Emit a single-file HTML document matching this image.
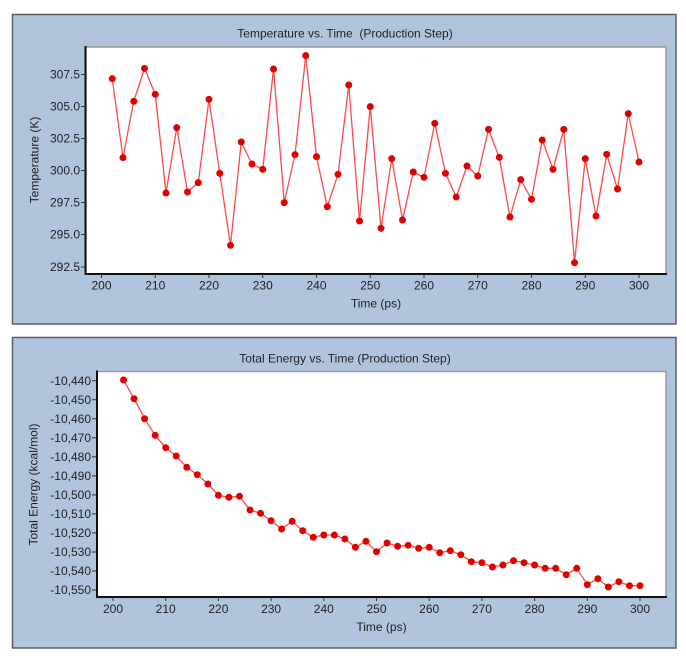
<!DOCTYPE html>
<html><head><meta charset="utf-8"><style>
html,body{margin:0;padding:0;background:#fff;width:686px;height:656px;overflow:hidden}
svg{display:block}
text{font-family:"Liberation Sans",Arial,sans-serif;font-size:12px;fill:#222}
</style></head><body>
<svg width="686" height="656" viewBox="0 0 686 656" xmlns="http://www.w3.org/2000/svg">
<!-- Top panel -->
<rect x="12.5" y="14.5" width="663.5" height="309.5" fill="#b0c4de" stroke="#5a5e63" stroke-width="1.5"/>
<rect x="86" y="47" width="580" height="227" fill="#fff" stroke="#9a9a9a" stroke-width="1.5"/>
<text x="345" y="37.5" text-anchor="middle">Temperature vs. Time &#160;(Production Step)</text>
<line x1="85.5" y1="46" x2="85.5" y2="275" stroke="#111" stroke-width="2"/>
<line x1="84.5" y1="274" x2="667" y2="274" stroke="#111" stroke-width="2"/>
<g stroke="#333" stroke-width="1">
<line x1="81" y1="74.5" x2="85" y2="74.5"/><line x1="81" y1="106.5" x2="85" y2="106.5"/><line x1="81" y1="138.5" x2="85" y2="138.5"/><line x1="81" y1="170.5" x2="85" y2="170.5"/><line x1="81" y1="202.5" x2="85" y2="202.5"/><line x1="81" y1="234.5" x2="85" y2="234.5"/><line x1="81" y1="267" x2="85" y2="267"/>
<line x1="101.5" y1="275" x2="101.5" y2="278"/><line x1="155.25" y1="275" x2="155.25" y2="278"/><line x1="209" y1="275" x2="209" y2="278"/><line x1="262.75" y1="275" x2="262.75" y2="278"/><line x1="316.5" y1="275" x2="316.5" y2="278"/><line x1="370.25" y1="275" x2="370.25" y2="278"/><line x1="424" y1="275" x2="424" y2="278"/><line x1="477.75" y1="275" x2="477.75" y2="278"/><line x1="531.5" y1="275" x2="531.5" y2="278"/><line x1="585.25" y1="275" x2="585.25" y2="278"/><line x1="639" y1="275" x2="639" y2="278"/>
</g>
<g text-anchor="end">
<text x="80" y="78.7">307.5</text><text x="80" y="110.7">305.0</text><text x="80" y="142.7">302.5</text><text x="80" y="174.7">300.0</text><text x="80" y="206.7">297.5</text><text x="80" y="238.7">295.0</text><text x="80" y="271.2">292.5</text>
</g>
<g text-anchor="middle">
<text x="101.5" y="289.5">200</text><text x="155.25" y="289.5">210</text><text x="209" y="289.5">220</text><text x="262.75" y="289.5">230</text><text x="316.5" y="289.5">240</text><text x="370.25" y="289.5">250</text><text x="424" y="289.5">260</text><text x="477.75" y="289.5">270</text><text x="531.5" y="289.5">280</text><text x="585.25" y="289.5">290</text><text x="639" y="289.5">300</text>
<text x="376" y="307.5">Time (ps)</text>
<text transform="translate(38.5,160) rotate(-90)">Temperature (K)</text>
</g>
<polyline fill="none" stroke="#ff4848" stroke-width="1.3" stroke-linejoin="round" points="112.25,78.67 123,157.67 133.75,101.33 144.5,68.33 155.25,94.33 166,193 176.75,127.67 187.5,192 198.25,182.67 209,99.33 219.75,173.33 230.5,245.33 241.25,142 252,164 262.75,169.33 273.5,69 284.25,202.67 295,154.67 305.75,55.67 316.5,156.67 327.25,206.67 338,174.33 348.75,85 359.5,221 370.25,106.67 381,228.33 391.75,158.67 402.5,220 413.25,172 424,177.33 434.75,123.33 445.5,173.33 456.25,197 467,166 477.75,176 488.5,129.33 499.25,157.33 510,217 520.75,179.67 531.5,199.33 542.25,140 553,169.33 563.75,129.33 574.5,262.67 585.25,158.67 596,216 606.75,154.33 617.5,189 628.25,113.67 639,162"/>
<g fill="#e00000">
<circle cx="112.25" cy="78.67" r="3.5"/><circle cx="123" cy="157.67" r="3.5"/><circle cx="133.75" cy="101.33" r="3.5"/><circle cx="144.5" cy="68.33" r="3.5"/><circle cx="155.25" cy="94.33" r="3.5"/><circle cx="166" cy="193" r="3.5"/><circle cx="176.75" cy="127.67" r="3.5"/><circle cx="187.5" cy="192" r="3.5"/><circle cx="198.25" cy="182.67" r="3.5"/><circle cx="209" cy="99.33" r="3.5"/><circle cx="219.75" cy="173.33" r="3.5"/><circle cx="230.5" cy="245.33" r="3.5"/><circle cx="241.25" cy="142" r="3.5"/><circle cx="252" cy="164" r="3.5"/><circle cx="262.75" cy="169.33" r="3.5"/><circle cx="273.5" cy="69" r="3.5"/><circle cx="284.25" cy="202.67" r="3.5"/><circle cx="295" cy="154.67" r="3.5"/><circle cx="305.75" cy="55.67" r="3.5"/><circle cx="316.5" cy="156.67" r="3.5"/><circle cx="327.25" cy="206.67" r="3.5"/><circle cx="338" cy="174.33" r="3.5"/><circle cx="348.75" cy="85" r="3.5"/><circle cx="359.5" cy="221" r="3.5"/><circle cx="370.25" cy="106.67" r="3.5"/><circle cx="381" cy="228.33" r="3.5"/><circle cx="391.75" cy="158.67" r="3.5"/><circle cx="402.5" cy="220" r="3.5"/><circle cx="413.25" cy="172" r="3.5"/><circle cx="424" cy="177.33" r="3.5"/><circle cx="434.75" cy="123.33" r="3.5"/><circle cx="445.5" cy="173.33" r="3.5"/><circle cx="456.25" cy="197" r="3.5"/><circle cx="467" cy="166" r="3.5"/><circle cx="477.75" cy="176" r="3.5"/><circle cx="488.5" cy="129.33" r="3.5"/><circle cx="499.25" cy="157.33" r="3.5"/><circle cx="510" cy="217" r="3.5"/><circle cx="520.75" cy="179.67" r="3.5"/><circle cx="531.5" cy="199.33" r="3.5"/><circle cx="542.25" cy="140" r="3.5"/><circle cx="553" cy="169.33" r="3.5"/><circle cx="563.75" cy="129.33" r="3.5"/><circle cx="574.5" cy="262.67" r="3.5"/><circle cx="585.25" cy="158.67" r="3.5"/><circle cx="596" cy="216" r="3.5"/><circle cx="606.75" cy="154.33" r="3.5"/><circle cx="617.5" cy="189" r="3.5"/><circle cx="628.25" cy="113.67" r="3.5"/><circle cx="639" cy="162" r="3.5"/>
</g>

<!-- Bottom panel -->
<rect x="12.5" y="337.5" width="663.5" height="310.5" fill="#b0c4de" stroke="#5a5e63" stroke-width="1.5"/>
<rect x="97" y="371.5" width="569" height="226" fill="#fff" stroke="#9a9a9a" stroke-width="1.5"/>
<text x="345" y="362.5" text-anchor="middle">Total Energy vs. Time (Production Step)</text>
<line x1="97" y1="370.5" x2="97" y2="598" stroke="#111" stroke-width="2"/>
<line x1="96" y1="597" x2="667" y2="597" stroke="#111" stroke-width="2"/>
<g stroke="#333" stroke-width="1">
<line x1="92" y1="380.7" x2="96" y2="380.7"/><line x1="92" y1="399.7" x2="96" y2="399.7"/><line x1="92" y1="418.8" x2="96" y2="418.8"/><line x1="92" y1="437.8" x2="96" y2="437.8"/><line x1="92" y1="456.8" x2="96" y2="456.8"/><line x1="92" y1="475.9" x2="96" y2="475.9"/><line x1="92" y1="494.9" x2="96" y2="494.9"/><line x1="92" y1="513.9" x2="96" y2="513.9"/><line x1="92" y1="532.9" x2="96" y2="532.9"/><line x1="92" y1="552" x2="96" y2="552"/><line x1="92" y1="571" x2="96" y2="571"/><line x1="92" y1="590" x2="96" y2="590"/>
<line x1="113" y1="598" x2="113" y2="601"/><line x1="165.7" y1="598" x2="165.7" y2="601"/><line x1="218.4" y1="598" x2="218.4" y2="601"/><line x1="271.1" y1="598" x2="271.1" y2="601"/><line x1="323.8" y1="598" x2="323.8" y2="601"/><line x1="376.5" y1="598" x2="376.5" y2="601"/><line x1="429.2" y1="598" x2="429.2" y2="601"/><line x1="481.9" y1="598" x2="481.9" y2="601"/><line x1="534.6" y1="598" x2="534.6" y2="601"/><line x1="587.3" y1="598" x2="587.3" y2="601"/><line x1="640" y1="598" x2="640" y2="601"/>
</g>
<g text-anchor="end">
<text x="91" y="384.9">-10,440</text><text x="91" y="403.9">-10,450</text><text x="91" y="423">-10,460</text><text x="91" y="442">-10,470</text><text x="91" y="461">-10,480</text><text x="91" y="480.1">-10,490</text><text x="91" y="499.1">-10,500</text><text x="91" y="518.1">-10,510</text><text x="91" y="537.1">-10,520</text><text x="91" y="556.2">-10,530</text><text x="91" y="575.2">-10,540</text><text x="91" y="594.2">-10,550</text>
</g>
<g text-anchor="middle">
<text x="113" y="613">200</text><text x="165.7" y="613">210</text><text x="218.4" y="613">220</text><text x="271.1" y="613">230</text><text x="323.8" y="613">240</text><text x="376.5" y="613">250</text><text x="429.2" y="613">260</text><text x="481.9" y="613">270</text><text x="534.6" y="613">280</text><text x="587.3" y="613">290</text><text x="640" y="613">300</text>
<text x="381.5" y="631">Time (ps)</text>
<text transform="translate(37.5,484.5) rotate(-90)">Total Energy (kcal/mol)</text>
</g>
<polyline fill="none" stroke="#ff4848" stroke-width="1.3" stroke-linejoin="round" points="123.54,380 134.08,398.7 144.62,418.7 155.16,435.3 165.7,447.7 176.24,456 186.78,467.3 197.32,474.7 207.86,484 218.4,495.3 228.94,497.3 239.48,496.3 250.02,510 260.56,513.3 271.1,520.7 281.64,529 292.18,521.3 302.72,530.7 313.26,537.3 323.8,535 334.34,535 344.88,539 355.42,547.3 365.96,541.3 376.5,551.7 387.04,543 397.58,546.3 408.12,545.3 418.66,548.3 429.2,547.3 439.74,552.7 450.28,550.7 460.82,554.7 471.36,561.7 481.9,562.7 492.44,567 502.98,565 513.52,560.7 524.06,562.7 534.6,565 545.14,568.3 555.68,568.3 566.22,574.7 576.76,568.3 587.3,584.7 597.84,578.7 608.38,587 618.92,581.7 629.46,585.7 640,585.7"/>
<g fill="#e00000">
<circle cx="123.54" cy="380" r="3.5"/><circle cx="134.08" cy="398.7" r="3.5"/><circle cx="144.62" cy="418.7" r="3.5"/><circle cx="155.16" cy="435.3" r="3.5"/><circle cx="165.7" cy="447.7" r="3.5"/><circle cx="176.24" cy="456" r="3.5"/><circle cx="186.78" cy="467.3" r="3.5"/><circle cx="197.32" cy="474.7" r="3.5"/><circle cx="207.86" cy="484" r="3.5"/><circle cx="218.4" cy="495.3" r="3.5"/><circle cx="228.94" cy="497.3" r="3.5"/><circle cx="239.48" cy="496.3" r="3.5"/><circle cx="250.02" cy="510" r="3.5"/><circle cx="260.56" cy="513.3" r="3.5"/><circle cx="271.1" cy="520.7" r="3.5"/><circle cx="281.64" cy="529" r="3.5"/><circle cx="292.18" cy="521.3" r="3.5"/><circle cx="302.72" cy="530.7" r="3.5"/><circle cx="313.26" cy="537.3" r="3.5"/><circle cx="323.8" cy="535" r="3.5"/><circle cx="334.34" cy="535" r="3.5"/><circle cx="344.88" cy="539" r="3.5"/><circle cx="355.42" cy="547.3" r="3.5"/><circle cx="365.96" cy="541.3" r="3.5"/><circle cx="376.5" cy="551.7" r="3.5"/><circle cx="387.04" cy="543" r="3.5"/><circle cx="397.58" cy="546.3" r="3.5"/><circle cx="408.12" cy="545.3" r="3.5"/><circle cx="418.66" cy="548.3" r="3.5"/><circle cx="429.2" cy="547.3" r="3.5"/><circle cx="439.74" cy="552.7" r="3.5"/><circle cx="450.28" cy="550.7" r="3.5"/><circle cx="460.82" cy="554.7" r="3.5"/><circle cx="471.36" cy="561.7" r="3.5"/><circle cx="481.9" cy="562.7" r="3.5"/><circle cx="492.44" cy="567" r="3.5"/><circle cx="502.98" cy="565" r="3.5"/><circle cx="513.52" cy="560.7" r="3.5"/><circle cx="524.06" cy="562.7" r="3.5"/><circle cx="534.6" cy="565" r="3.5"/><circle cx="545.14" cy="568.3" r="3.5"/><circle cx="555.68" cy="568.3" r="3.5"/><circle cx="566.22" cy="574.7" r="3.5"/><circle cx="576.76" cy="568.3" r="3.5"/><circle cx="587.3" cy="584.7" r="3.5"/><circle cx="597.84" cy="578.7" r="3.5"/><circle cx="608.38" cy="587" r="3.5"/><circle cx="618.92" cy="581.7" r="3.5"/><circle cx="629.46" cy="585.7" r="3.5"/><circle cx="640" cy="585.7" r="3.5"/>
</g>
</svg>
</body></html>
